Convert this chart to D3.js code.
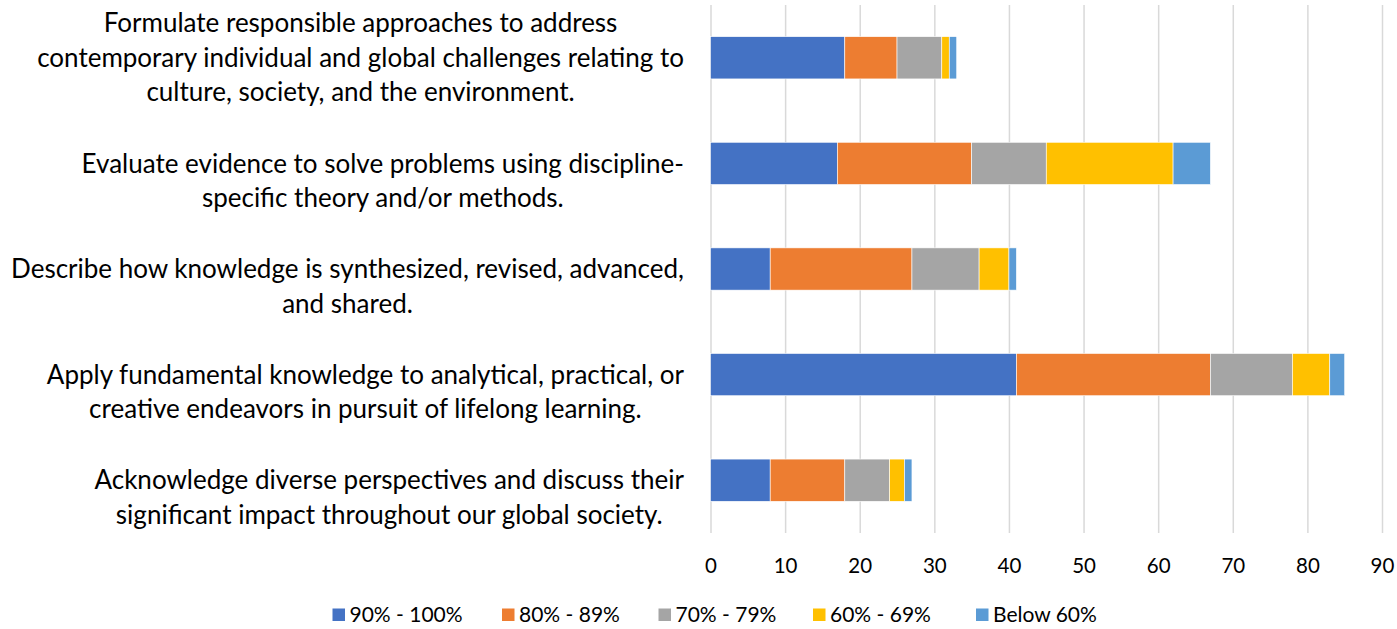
<!DOCTYPE html>
<html><head><meta charset="utf-8">
<script src="https://cdn.jsdelivr.net/npm/d3@7"></script>
<style>
html,body{margin:0;padding:0;background:#fff;}
svg{display:block;font-family:Lato, "Open Sans", sans-serif;}
</style></head>
<body>
<svg id="chart" width="1397" height="629"></svg>
<script>
const categories = [
  "Formulate responsible approaches to address\ncontemporary individual and global challenges relating to\nculture, society, and the environment.",
  "Evaluate evidence to solve problems using discipline-\nspecific theory and/or methods.",
  "Describe how knowledge is synthesized, revised, advanced,\nand shared.",
  "Apply fundamental knowledge to analytical, practical, or\ncreative endeavors in pursuit of lifelong learning.",
  "Acknowledge diverse perspectives and discuss their\nsignificant impact throughout our global society."
];
const seriesNames = ["90% - 100%", "80% - 89%", "70% - 79%", "60% - 69%", "Below 60%"];
const s90 = [18, 17, 8, 41, 8];
const s80 = [7, 18, 19, 26, 10];
const s70 = [6, 10, 9, 11, 6];
const s60 = [1, 17, 4, 5, 2];
const sBelow = [1, 5, 1, 2, 1];
const xTicks = [0,10,20,30,40,50,60,70,80,90];
const colors = ["#4472C4", "#ED7D31", "#A5A5A5", "#FFC000", "#5B9BD5"];

(function(){
const seriesValues = [s90, s80, s70, s60, sBelow];
const rows = categories.map((c, i) => {
  const r = {cat: c};
  seriesNames.forEach((s, j) => r[s] = seriesValues[j][i]);
  return r;
});

const svg = d3.select("#chart");
const pLeft = 710.5, pRight = 1382, pTop = 5, pBottom = 533;

const x = d3.scaleLinear().domain([0, 90]).range([pLeft, pRight]);
const y = d3.scaleBand().domain(categories).range([pTop, pBottom]).paddingInner(0.6).paddingOuter(0.3);

// gridlines
svg.append("g")
  .attr("transform", `translate(0,${pBottom})`)
  .call(d3.axisBottom(x).tickValues(xTicks).tickSize(-(pBottom - pTop)).tickFormat(""))
  .call(g => g.select(".domain").remove())
  .call(g => g.selectAll(".tick line").attr("stroke", "#d9d9d9").attr("stroke-width", 1.5));

// tick labels
svg.append("g")
  .attr("transform", `translate(0,${pBottom})`)
  .call(d3.axisBottom(x).tickValues(xTicks).tickSize(0).tickPadding(25))
  .call(g => g.select(".domain").remove())
  .call(g => g.selectAll(".tick text").attr("font-size", 20.5).attr("fill", "#000").attr("font-family", "Lato, sans-serif"));

// stacked bars
const stack = d3.stack().keys(seriesNames)(rows);
svg.append("g").selectAll("g").data(stack).join("g")
  .attr("fill", (d, i) => colors[i])
  .selectAll("rect").data(d => d).join("rect")
  .attr("x", d => x(d[0]))
  .attr("width", d => x(d[1]) - x(d[0]))
  .attr("y", d => y(d.data.cat))
  .attr("height", y.bandwidth())
  .attr("stroke", "#fff").attr("stroke-width", 0.6);

// category labels
const labelRight = 684;
const lineH = 34.5;
const lg = svg.append("g");
categories.forEach(c => {
  const lines = c.split("\n");
  const t = lg.append("text")
    .attr("font-size", 26)
    .attr("fill", "#000")
    .attr("text-anchor", "middle");
  const cy = y(c) + y.bandwidth() / 2;
  const first = cy - lineH * Math.floor((lines.length - 1) / 2);
  lines.forEach((ln, k) => {
    t.append("tspan").text(ln)
      .attr("y", first + k * lineH)
      .attr("dy", "0.35em");
  });
  let maxW = 0;
  t.selectAll("tspan").each(function(){ maxW = Math.max(maxW, this.getComputedTextLength()); });
  t.selectAll("tspan").attr("x", labelRight - maxW / 2);
});

// legend
const legendX = [332.5, 502, 658.5, 813, 976];
const leg = svg.append("g");
seriesNames.forEach((s, i) => {
  const g = leg.append("g").attr("transform", `translate(${legendX[i]},615)`);
  g.append("rect").attr("x", 0).attr("y", -6.5).attr("width", 12.5).attr("height", 12.5).attr("fill", colors[i]);
  g.append("text").attr("x", 17).attr("y", 0).attr("dy", "0.35em")
    .attr("font-size", 21).attr("fill", "#000").text(s);
});
})();
</script>
</body></html>
